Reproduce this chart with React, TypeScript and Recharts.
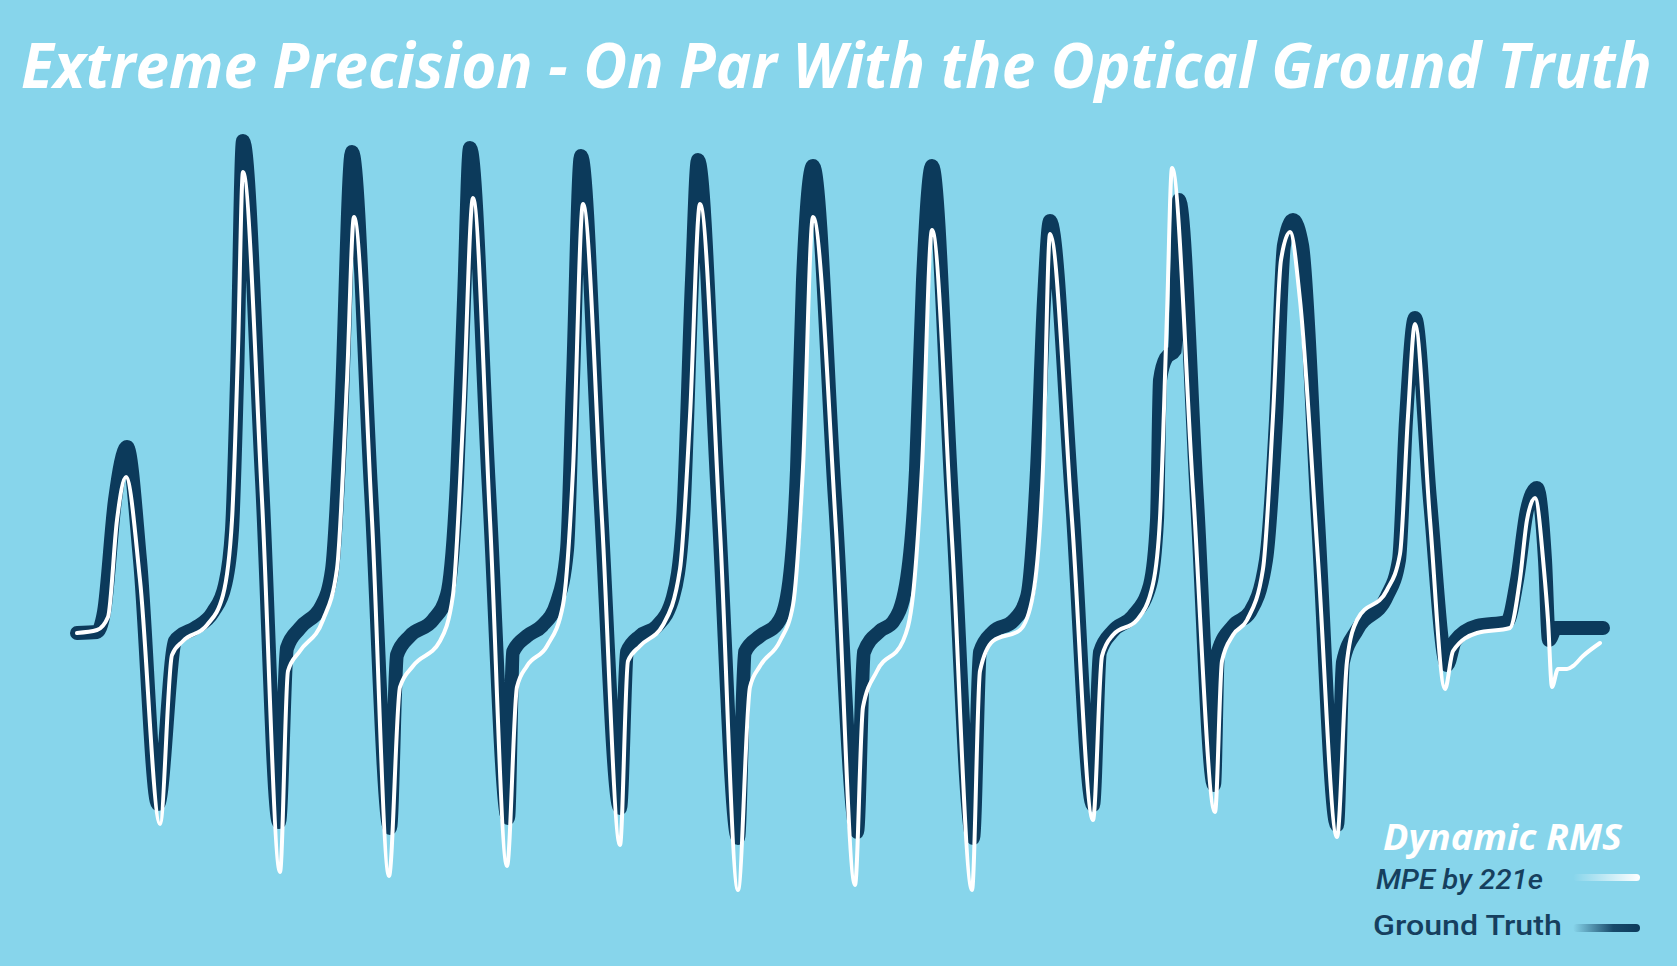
import React, { useLayoutEffect, useRef, useState } from "react";
import { LineChart, Line, XAxis, YAxis } from "recharts";

// Ground truth (optical) — time in s, RMS value
const gtTime = [
  0.07, 0.27, 0.3, 0.34, 0.45, 0.57, 0.7, 0.88,
  1.05, 1.1, 1.25, 1.43, 1.55, 1.62, 1.67, 1.73,
  1.92, 2.09, 2.17, 2.3, 2.52, 2.62, 2.71, 2.82,
  3.01, 3.2, 3.27, 3.4, 3.63, 3.77, 3.87, 3.94, 4.0,
  4.19, 4.38, 4.43, 4.57, 4.72, 4.87, 4.97, 5.03, 5.11,
  5.3, 5.5, 5.57, 5.7, 5.87, 6.03, 6.13, 6.22, 6.28,
  6.48, 6.68, 6.75, 6.9, 7.07, 7.17, 7.27, 7.33, 7.43,
  7.65, 7.87, 7.94, 8.1, 8.23, 8.36, 8.46, 8.53, 8.62,
  8.82, 9.03, 9.1, 9.23, 9.43, 9.57, 9.67, 9.74, 9.8,
  10.02, 10.23, 10.3, 10.43, 10.63, 10.8, 10.87, 10.9, 10.96, 11.05, 11.09,
  11.27, 11.44, 11.48, 11.63, 11.8, 11.96, 12.06, 12.14, 12.23, 12.32,
  12.48, 12.67, 12.73, 12.87, 13.17, 13.29, 13.36, 13.45,
  13.6, 13.77, 13.85, 14.07, 14.37, 14.47, 14.57, 14.67,
  14.75, 14.79, 14.86, 15.33,
];
const gtValue = [
  -0.02, -0.01, 0.03, 0.19, 1.31, 1.84, 0.71, -1.73,
  -0.1, -0.05, 0.03, 0.19, 0.46, 1.01, 2.51, 4.9,
  1.51, -1.91, -0.17, 0.03, 0.26, 0.61, 2.11, 4.79,
  1.41, -1.97, -0.24, -0.05, 0.11, 0.36, 1.51, 3.31, 4.83,
  1.41, -1.87, -0.21, -0.05, 0.05, 0.29, 0.81, 2.51, 4.75,
  1.41, -1.77, -0.21, -0.05, 0.05, 0.34, 1.11, 3.51, 4.71,
  1.31, -2.07, -0.21, -0.05, 0.07, 0.34, 1.61, 3.51, 4.65,
  1.31, -2.01, -0.21, 0.0, 0.09, 0.46, 1.61, 3.51, 4.65,
  1.31, -2.07, -0.21, -0.01, 0.1, 0.34, 1.61, 3.31, 4.1,
  1.31, -1.74, -0.21, 0.0, 0.15, 0.46, 1.11, 2.51, 2.73, 2.81, 4.31,
  1.31, -1.54, -0.21, 0.05, 0.19, 0.71, 2.11, 3.86, 4.11, 3.86,
  1.11, -1.94, -0.31, 0.01, 0.35, 0.71, 2.11, 3.13,
  1.31, -0.34, -0.1, 0.05, 0.09, 0.51, 1.21, 1.43,
  0.71, -0.09, 0.03, 0.03,
];

// MPE by 221e — time in s, RMS value
const mpeTime = [
  0.07, 0.27, 0.38, 0.47, 0.56, 0.7, 0.9,
  1.02, 1.13, 1.37, 1.53, 1.62, 1.68, 1.73,
  1.92, 2.1, 2.18, 2.3, 2.53, 2.67, 2.77, 2.84,
  3.02, 3.19, 3.3, 3.43, 3.7, 3.83, 3.93, 4.03,
  4.2, 4.37, 4.47, 4.57, 4.77, 4.93, 5.03, 5.13,
  5.32, 5.5, 5.58, 5.7, 5.93, 6.1, 6.2, 6.3,
  6.5, 6.68, 6.8, 6.9, 7.1, 7.23, 7.33, 7.43,
  7.66, 7.85, 7.93, 8.07, 8.33, 8.43, 8.52, 8.62,
  8.82, 9.02, 9.1, 9.23, 9.5, 9.63, 9.73, 9.8,
  10.02, 10.23, 10.32, 10.43, 10.67, 10.83, 10.9, 10.97, 11.02,
  11.23, 11.45, 11.52, 11.63, 11.77, 11.93, 12.03, 12.11, 12.2,
  12.3, 12.48, 12.67, 12.77, 12.87, 13.17, 13.3, 13.38, 13.45,
  13.6, 13.75, 13.83, 14.07, 14.4, 14.5, 14.57, 14.65,
  14.74, 14.78, 14.82, 14.88, 14.97, 15.03, 15.13, 15.3,
];
const mpeValue = [
  -0.02, 0.01, 0.14, 1.11, 1.54, 0.51, -1.93,
  -0.24, -0.1, 0.06, 0.36, 1.11, 2.81, 4.59,
  1.31, -2.41, -0.4, -0.2, 0.11, 0.62, 2.51, 4.14,
  1.11, -2.45, -0.56, -0.35, -0.1, 0.36, 2.11, 4.33,
  1.11, -2.35, -0.56, -0.35, -0.15, 0.26, 1.61, 4.27,
  1.11, -2.14, -0.3, -0.15, 0.06, 0.62, 2.15, 4.27,
  1.01, -2.59, -0.56, -0.35, -0.1, 0.26, 1.64, 4.14,
  1.01, -2.54, -0.76, -0.4, -0.1, 0.36, 1.64, 4.01,
  0.91, -2.59, -0.4, -0.1, 0.01, 0.36, 1.64, 3.97,
  1.11, -1.89, -0.25, -0.04, 0.11, 0.47, 1.13, 3.17, 4.63,
  1.41, -1.81, -0.3, -0.04, 0.11, 0.62, 2.15, 3.71, 3.99,
  3.31, 0.71, -2.06, -0.3, 0.11, 0.41, 0.77, 2.15, 3.07,
  1.11, -0.58, -0.2, -0.02, 0.03, 0.52, 1.11, 1.33,
  0.61, 0.11, -0.56, -0.38, -0.38, -0.35, -0.25, -0.12,
];

const TITLE = "Extreme Precision - On Par With the Optical Ground Truth";
const LEGEND_TITLE = "Dynamic RMS";
const SERIES_NAMES = ["MPE by 221e", "Ground Truth"];

const BG = "#87D5EB";
const NAVY = "#0C3A5B";

const gtData = gtTime.map((t, i) => ({ t, v: gtValue[i] }));
const mpeData = mpeTime.map((t, i) => ({ t, v: mpeValue[i] }));

type FitProps = {
  x: number;
  y: number;
  width: number;
  children: string;
  [k: string]: any;
};

function FitText({ x, y, width, children, ...rest }: FitProps) {
  const ref = useRef<SVGTextElement>(null);
  const [sx, setSx] = useState(1);
  useLayoutEffect(() => {
    const el = ref.current;
    if (!el) return;
    const w = el.getComputedTextLength();
    if (w > 0) setSx(width / w);
  }, [width, children]);
  return (
    <text ref={ref} x={0} y={0} transform={`translate(${x},${y}) scale(${sx},1)`} {...rest}>
      {children}
    </text>
  );
}

export default function App() {
  return (
    <div
      style={{
        position: "absolute",
        left: 0,
        top: 0,
        width: 1677,
        height: 966,
        background: BG,
        overflow: "hidden",
      }}
    >
      <div style={{ position: "absolute", left: 0, top: 0 }}>
        <LineChart
          width={1677}
          height={966}
          margin={{ top: 81, right: 67, bottom: 35, left: 70 }}
        >
          <XAxis dataKey="t" type="number" domain={[0, 15.4]} hide allowDataOverflow />
          <YAxis type="number" domain={[-3, 5.5]} hide allowDataOverflow />
          <Line
            data={gtData}
            dataKey="v"
            type="monotone"
            stroke={NAVY}
            strokeWidth={14}
            strokeLinecap="round"
            strokeLinejoin="round"
            dot={false}
            activeDot={false}
            isAnimationActive={false}
          />
          <Line
            data={mpeData}
            dataKey="v"
            type="monotone"
            stroke="#FFFFFF"
            strokeWidth={4}
            strokeLinecap="round"
            strokeLinejoin="round"
            dot={false}
            activeDot={false}
            isAnimationActive={false}
          />
        </LineChart>
      </div>
      <svg
        width={1677}
        height={966}
        style={{ position: "absolute", left: 0, top: 0, pointerEvents: "none" }}
      >
        <defs>
          <linearGradient id="gWhite" x1="0" x2="1" y1="0" y2="0">
            <stop offset="0" stopColor="#FFFFFF" stopOpacity={0} />
            <stop offset="1" stopColor="#FFFFFF" stopOpacity={1} />
          </linearGradient>
          <linearGradient id="gNavy" x1="0" x2="1" y1="0" y2="0">
            <stop offset="0" stopColor={NAVY} stopOpacity={0} />
            <stop offset="0.6" stopColor={NAVY} stopOpacity={0.9} />
            <stop offset="1" stopColor={NAVY} stopOpacity={1} />
          </linearGradient>
        </defs>
        <FitText
          x={21}
          y={88}
          width={1631}
          fill="#FFFFFF"
          fontFamily="'Open Sans', sans-serif"
          fontWeight={700}
          fontStyle="italic"
          fontSize={63}
        >
          {TITLE}
        </FitText>
        <FitText
          x={1383}
          y={850}
          width={239}
          fill="#FFFFFF"
          fontFamily="'Open Sans', sans-serif"
          fontWeight={700}
          fontStyle="italic"
          fontSize={35}
        >
          {LEGEND_TITLE}
        </FitText>
        <FitText
          x={1376}
          y={889}
          width={167}
          fill="#163F5E"
          fontFamily="Roboto, sans-serif"
          fontWeight={500}
          fontStyle="italic"
          fontSize={28}
        >
          {SERIES_NAMES[0]}
        </FitText>
        <FitText
          x={1373}
          y={935}
          width={189}
          fill="#163F5E"
          fontFamily="Roboto, sans-serif"
          fontWeight={500}
          fontSize={28}
        >
          {SERIES_NAMES[1]}
        </FitText>
        <rect x={1573} y={874} width={67} height={7} rx={3.5} fill="url(#gWhite)" />
        <rect x={1573} y={924} width={67} height={8} rx={4} fill="url(#gNavy)" />
      </svg>
    </div>
  );
}
